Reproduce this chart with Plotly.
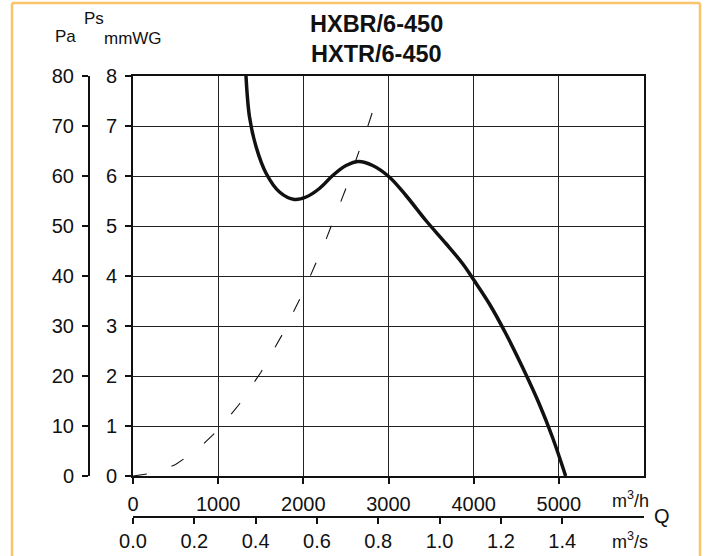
import plotly.graph_objects as go

# ---- data ----
fan_q = [1325, 1368, 1446, 1564, 1720, 1895, 2033, 2189, 2345, 2502, 2650, 2814,
         3009, 3205, 3439, 3674, 3869, 4006, 4182, 4377, 4572, 4768, 4924, 5080]
fan_ps = [8.05, 7.18, 6.58, 6.05, 5.68, 5.53, 5.58, 5.75, 6.01, 6.21, 6.29, 6.21,
          5.98, 5.61, 5.11, 4.65, 4.25, 3.91, 3.45, 2.85, 2.18, 1.45, 0.78, 0.0]

sys_q = [0, 250, 500, 750, 1000, 1250, 1500, 1750, 2000, 2250, 2500, 2750, 2900]
sys_ps = [0, 0.06, 0.23, 0.52, 0.92, 1.44, 2.07, 2.82, 3.68, 4.66, 5.75, 6.96, 7.74]

q_h_ticks = [0, 1000, 2000, 3000, 4000, 5000]
q_s_ticks = [0.0, 0.2, 0.4, 0.6, 0.8, 1.0, 1.2, 1.4]
q_s_labels = ["0.0", "0.2", "0.4", "0.6", "0.8", "1.0", "1.2", "1.4"]
mmwg_ticks = [0, 1, 2, 3, 4, 5, 6, 7, 8]
pa_ticks = [0, 10, 20, 30, 40, 50, 60, 70, 80]
titles = ["HXBR/6-450", "HXTR/6-450"]

# ---- layout geometry ----
W, H = 708, 556
ML, MR, MT, MB = 60, 64, 76, 20
PW, PH = W - ML - MR, H - MT - MB


def px_x(px):
    return (px - ML) / PW


def px_y(py):
    return (H - MB - py) / PH


NARROW = "Liberation Sans Narrow, Arial Narrow, Liberation Sans, Arial, sans-serif"
REG = "Liberation Sans, Arial, sans-serif"
ink = "#111111"
frame = "#F9C46A"
TICK = dict(family=NARROW, size=20, color=ink)

fig = go.Figure()

fig.add_trace(go.Scatter(
    x=sys_q, y=sys_ps, mode="lines",
    line=dict(color=ink, width=1.1, dash="14px,26px"),
    hoverinfo="skip", showlegend=False,
))
fig.add_trace(go.Scatter(
    x=fan_q, y=fan_ps, mode="lines",
    line=dict(color=ink, width=3.5, shape="spline", smoothing=1.0),
    hoverinfo="skip", showlegend=False,
))
# helper trace so the secondary (Pa, m3/s) axes are drawn
fig.add_trace(go.Scatter(
    x=[0], y=[0], xaxis="x2", yaxis="y2", mode="markers",
    marker=dict(opacity=0), hoverinfo="skip", showlegend=False,
))

x_dom = [px_x(133), 1]
y_dom = [px_y(476), 1]

common = dict(showgrid=False, zeroline=False, automargin=False,
              showline=True, linecolor=ink, linewidth=2,
              ticks="outside", ticklen=6, tickwidth=1.5, tickcolor=ink,
              tickfont=TICK, tickmode="array")

fig.update_layout(
    template="none",
    width=W, height=H,
    margin=dict(l=ML, r=MR, t=MT, b=MB, autoexpand=False),
    paper_bgcolor="white", plot_bgcolor="white",
    font=dict(family=NARROW, size=17, color=ink),
    xaxis=dict(
        domain=x_dom, range=[0, 6000], tickvals=q_h_ticks, mirror=True,
        ticklabelstandoff=3,
        minor=dict(tickmode="array", tickvals=[1000, 2000, 3000, 4000, 5000],
                   showgrid=True, gridcolor="#222222", gridwidth=1, ticks=""),
        **common,
    ),
    yaxis=dict(
        domain=y_dom, range=[0, 8], tickvals=mmwg_ticks, mirror=True,
        ticklabelstandoff=4,
        minor=dict(tickmode="array", tickvals=[1, 2, 3, 4, 5, 6, 7],
                   showgrid=True, gridcolor="#222222", gridwidth=1, ticks=""),
        **common,
    ),
    xaxis2=dict(
        overlaying="x", anchor="free", position=px_y(517),
        range=[0, 6000 / 3600], tickvals=q_s_ticks, ticktext=q_s_labels,
        ticklabelstandoff=0,
        **common,
    ),
    yaxis2=dict(
        overlaying="y", anchor="free", position=px_x(89),
        range=[0, 80], tickvals=pa_ticks,
        ticklabelstandoff=4,
        **common,
    ),
    showlegend=False,
)

ann = []
for i, t in enumerate(titles):
    ann.append(dict(text="<b>%s</b>" % t, x=px_x(376), y=px_y(24 + 30 * i),
                    xref="paper", yref="paper", showarrow=False,
                    xanchor="center", yanchor="middle",
                    font=dict(family=REG, size=23.5, color=ink)))
side_labels = [
    ("Pa", 65, 36, REG, 17),
    ("Ps", 94, 19, REG, 17),
    ("mmWG", 133, 38, REG, 17),
    ("m<sup>3</sup>/h", 630, 499, NARROW, 18),
    ("m<sup>3</sup>/s", 630, 540, NARROW, 18),
    ("Q", 662, 516, REG, 20),
]
for txt, x, y, fam, sz in side_labels:
    ann.append(dict(text=txt, x=px_x(x), y=px_y(y), xref="paper", yref="paper",
                    showarrow=False, xanchor="center", yanchor="middle",
                    font=dict(family=fam, size=sz, color=ink)))
fig.update_layout(annotations=ann)

# orange page frame (open at the bottom)
for x0, y0, x1, y1 in [(12, 3, 700, 3), (12, 3, 12, 560), (700, 3, 700, 560)]:
    fig.add_shape(type="line", xref="paper", yref="paper",
                  x0=px_x(x0), x1=px_x(x1), y0=px_y(y0), y1=px_y(y1),
                  line=dict(color=frame, width=2.5), layer="above")

fig.write_html("out.html", config={"displayModeBar": False},
               post_script="document.body.style.margin='0';"
                           "document.body.style.overflow='hidden';")
